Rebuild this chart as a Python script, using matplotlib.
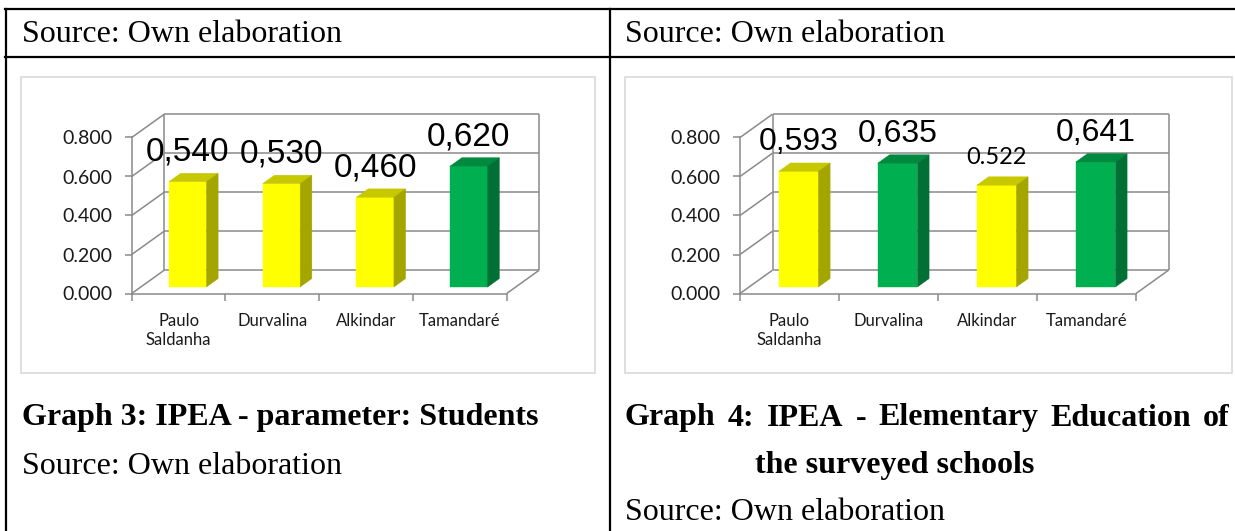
import matplotlib
matplotlib.use("Agg")
import matplotlib.pyplot as plt
from matplotlib.patches import Polygon, Rectangle
from matplotlib.lines import Line2D

# ---------------- data ----------------
categories = ["Paulo\nSaldanha", "Durvalina", "Alkindar", "Tamandaré"]
values_g3 = [0.540, 0.530, 0.460, 0.620]
labels_g3 = ["0,540", "0,530", "0,460", "0,620"]
colors_g3 = ["yellow", "yellow", "yellow", "green"]
values_g4 = [0.593, 0.635, 0.522, 0.641]
labels_g4 = ["0,593", "0,635", "0.522", "0,641"]
colors_g4 = ["yellow", "green", "yellow", "green"]
yticks = [0.0, 0.2, 0.4, 0.6, 0.8]
ytick_labels = ["0.000", "0.200", "0.400", "0.600", "0.800"]

title_g3 = "Graph 3: IPEA - parameter: Students"
title_g4_line1 = "Graph 4: IPEA - Elementary Education of"
title_g4_line2 = "the surveyed schools"
source_text = "Source: Own elaboration"

# ---------------- style ----------------
W, H, DPI = 1235, 531, 100
PAL = {
    "yellow": ("#FFFF00", "#C8C800", "#A5A500"),
    "green": ("#00B050", "#008A3F", "#007034"),
}
GRID = "#8A8A8A"
SERIF = "Liberation Serif"

fig = plt.figure(figsize=(W / DPI, H / DPI), dpi=DPI)
bg = fig.add_axes([0, 0, 1, 1])
bg.set_xlim(0, W)
bg.set_ylim(H, 0)
bg.axis("off")

# table lines
tlw = 1.6
for y in (9, 57):
    bg.add_line(Line2D([5, W], [y, y], color="black", lw=tlw))
for x in (6, 610):
    bg.add_line(Line2D([x, x], [9, H], color="black", lw=tlw))

# chart frames
for (x0, x1) in ((21, 595), (625, 1232)):
    bg.add_patch(Rectangle((x0, 77), x1 - x0, 373 - 77, fill=False,
                           ec="#D9D9D9", lw=1.2))

# texts
fs = 23
bg.text(22, 34, source_text, fontsize=fs, family=SERIF, va="center")
bg.text(625, 34, source_text, fontsize=fs, family=SERIF, va="center")
bg.text(22, 418, title_g3, fontsize=fs, family=SERIF, weight="bold", va="center")
bg.text(22, 466, source_text, fontsize=fs, family=SERIF, va="center")
bg.text(755, 466, title_g4_line2, fontsize=fs, family=SERIF, weight="bold", va="center")
bg.text(625, 513, source_text, fontsize=fs, family=SERIF, va="center")

# justified line
words = title_g4_line1.split(" ")
wt = [bg.text(0, 418, w, fontsize=fs, family=SERIF, weight="bold", va="center")
      for w in words]
fig.canvas.draw()
r = fig.canvas.get_renderer()
widths = [t.get_window_extent(r).width for t in wt]
jx0, jx1 = 625, 1230
gap = (jx1 - jx0 - sum(widths)) / (len(words) - 1)
x = jx0
for t, w in zip(wt, widths):
    t.set_x(x)
    x += w + gap


def chart(left, right, values, labels, colors, label_styles):
    y0, y8 = 293.5, 137.5
    ax = fig.add_axes([left / W, 1 - y0 / H, (right - left) / W, (y0 - y8) / H])
    ax.set_xlim(0, len(values))
    ax.set_ylim(0, 0.8)
    ax.patch.set_alpha(0)
    n = len(values)
    cat_px = (right - left) / n
    DX = 32.5 / cat_px
    DY = 23.3 / ((y0 - y8) / 0.8)
    kw = dict(color=GRID, lw=1.1, clip_on=False, zorder=1, solid_capstyle="butt")
    # back wall gridlines and side diagonals
    for yv in yticks:
        ax.plot([DX, n + DX], [yv + DY, yv + DY], **kw)
        ax.plot([0, DX], [yv, yv + DY], **kw)
    ax.plot([DX, DX], [DY, 0.8 + DY], **kw)
    ax.plot([n + DX, n + DX], [DY, 0.8 + DY], **kw)
    ax.plot([n, n + DX], [0, DY], **kw)
    # spines / ticks
    for s in ("top", "right"):
        ax.spines[s].set_visible(False)
    for s in ("left", "bottom"):
        ax.spines[s].set_color(GRID)
        ax.spines[s].set_linewidth(1.1)
    ax.set_yticks(yticks)
    ax.set_yticklabels(ytick_labels, family="Lato", fontsize=14, color="#1A1A1A")
    ax.set_xticks(range(n + 1))
    ax.set_xticklabels([])
    ax.set_xticks([i + 0.5 for i in range(n)], minor=True)
    ax.set_xticklabels(categories, minor=True, family="Lato", fontsize=12,
                       color="#1A1A1A", linespacing=1.2)
    ax.tick_params(axis="both", which="major", color=GRID, length=5, width=1.1)
    ax.tick_params(axis="y", pad=9)
    ax.tick_params(axis="x", which="minor", length=0, pad=14)
    # bars
    d0, d1 = 0.28, 0.64
    bw = 0.4
    for i, (v, lab, c, st) in enumerate(zip(values, labels, colors, label_styles)):
        front, top, side = PAL[c]
        xa = i + 0.5 - bw / 2 + d0 * DX
        xb = xa + bw
        ya = d0 * DY
        ox, oy = (d1 - d0) * DX, (d1 - d0) * DY
        ax.add_patch(Polygon([(xa, ya), (xb, ya), (xb, ya + v), (xa, ya + v)],
                             closed=True, fc=front, ec=front, lw=0.3,
                             clip_on=False, zorder=3))
        ax.add_patch(Polygon([(xa, ya + v), (xb, ya + v), (xb + ox, ya + v + oy),
                              (xa + ox, ya + v + oy)], closed=True, fc=top, ec=top,
                             lw=0.3, clip_on=False, zorder=3))
        ax.add_patch(Polygon([(xb, ya), (xb + ox, ya + oy), (xb + ox, ya + v + oy),
                              (xb, ya + v)], closed=True, fc=side, ec=side, lw=0.3,
                             clip_on=False, zorder=3))
        ax.annotate(lab, xy=(i + 0.5 + d0 * DX, v + d1 * DY), xytext=(0, 9),
                    textcoords="offset points", ha="center", va="baseline",
                    zorder=5, annotation_clip=False, **st)
    return ax


BIG3 = dict(family="Liberation Sans", fontsize=24)
BIG4 = dict(family="Liberation Sans", fontsize=23)
SMALL4 = dict(family="Lato", fontsize=17)
chart(131.7, 506.7, values_g3, labels_g3, colors_g3, [BIG3] * 4)
chart(740, 1136, values_g4, labels_g4, colors_g4, [BIG4, BIG4, SMALL4, BIG4])

fig.savefig("out.png", dpi=DPI)
